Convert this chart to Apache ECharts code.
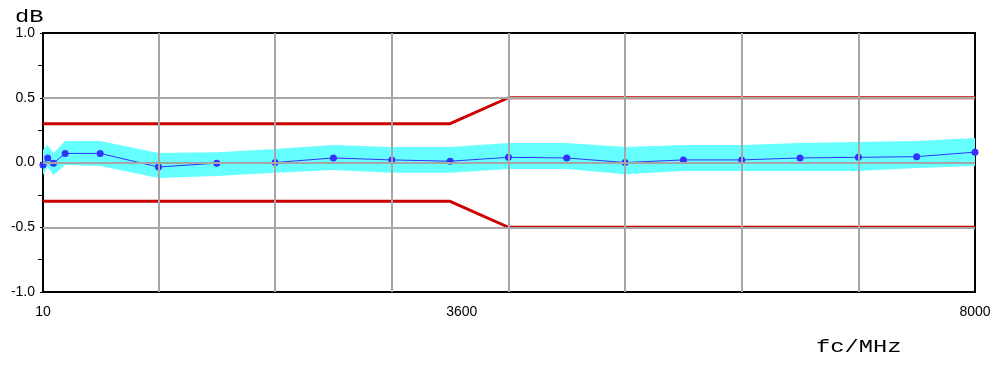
<!DOCTYPE html>
<html><head><meta charset="utf-8">
<script src="https://cdn.jsdelivr.net/npm/echarts@6/dist/echarts.min.js"></script>
<style>html,body{margin:0;padding:0;background:#fff}#c{width:997px;height:365px}</style>
</head><body><div id="c"></div>
<script>
const freqs = [10,50,100,200,500,1000,1500,2000,2500,3000,3500,4000,4500,5000,5500,6000,6500,7000,7500,8000];
const measured = [-0.02,0.035,-0.005,0.07,0.07,-0.035,-0.005,0.0,0.035,0.02,0.01,0.04,0.035,0.0,0.02,0.02,0.035,0.04,0.045,0.08];
const bandUpper = [0.097,0.135,0.073,0.166,0.166,0.073,0.08,0.104,0.135,0.12,0.12,0.15,0.15,0.12,0.135,0.135,0.15,0.158,0.166,0.19];
const bandLower = [-0.097,-0.035,-0.097,-0.02,-0.027,-0.12,-0.104,-0.08,-0.058,-0.08,-0.08,-0.05,-0.05,-0.09,-0.066,-0.066,-0.066,-0.066,-0.042,-0.027];
const limitFreqs = [10,3500,4000,8000];
const upperLimit = [0.3,0.3,0.5,0.5];
const lowerLimit = [-0.3,-0.3,-0.5,-0.5];
const gridFreqs = [1000,2000,3000,4000,5000,6000,7000];
const gridLevels = [-0.5,0,0.5];
const xTickLabels = [10,3600,8000];

const chart = echarts.init(document.getElementById('c'), null, {renderer:'canvas'});
const gridLineStyle = {color:'#a6a6a6', width:2, type:'solid'};
const labelFont = 'Liberation Sans, Arial, sans-serif';
const option = {
  animation:false,
  grid:{left:43, right:22, top:33, bottom:73, show:true, borderColor:'#000', borderWidth:2, backgroundColor:'transparent'},
  xAxis:{
    type:'value', min:10, max:8000,
    axisLine:{show:true, lineStyle:{color:'#000', width:2}},
    splitLine:{show:false},
    axisTick:{show:true, customValues:xTickLabels, length:4, lineStyle:{color:'#000', width:1}},
    axisLabel:{customValues:xTickLabels, color:'#000', fontFamily:labelFont, fontSize:14, margin:13,
      formatter:v=>String(v)}
  },
  yAxis:{
    type:'value', min:-1, max:1, interval:0.5,
    axisLine:{show:true, lineStyle:{color:'#000', width:2}},
    splitLine:{show:false},
    axisTick:{show:true, length:3, lineStyle:{color:'#000', width:1}},
    minorTick:{show:true, splitNumber:2, length:5, lineStyle:{color:'#000', width:1}},
    axisLabel:{color:'#000', fontFamily:labelFont, fontSize:14, margin:8,
      formatter:v=>v.toFixed(1)}
  },
  graphic:[
    {type:'text', x:15, y:7, scaleX:1.25, style:{text:'dB', font:'19px "Liberation Mono", "DejaVu Sans Mono", monospace', fill:'#000'}},
    {type:'text', x:816, y:337, scaleX:1.25, style:{text:'fc/MHz', font:'19px "Liberation Mono", "DejaVu Sans Mono", monospace', fill:'#000'}}
  ],
  series:[
    {
      type:'custom', z:1, silent:true,
      data: freqs.map((f,i)=>[f,bandLower[i],bandUpper[i]]),
      encode:{x:0, y:[1,2]},
      renderItem:(params, api)=>{
        if (params.dataIndex !== 0) return null;
        const pts = [];
        for (let i=0;i<freqs.length;i++) pts.push(api.coord([freqs[i], bandUpper[i]]));
        for (let i=freqs.length-1;i>=0;i--) pts.push(api.coord([freqs[i], bandLower[i]]));
        return {type:'polygon', shape:{points:pts}, style:{fill:'#66ffff', stroke:null}};
      }
    },
    {
      type:'line', z:2, data:[], silent:true,
      markLine:{silent:true, symbol:['none','none'], label:{show:false}, lineStyle:gridLineStyle, animation:false,
        data:[...gridFreqs.map(f=>({xAxis:f})), ...gridLevels.map(v=>({yAxis:v}))]}
    },
    {type:'line', z:3, symbol:'none', silent:true, lineStyle:{color:'#cc0000', width:3},
      data: limitFreqs.map((f,i)=>[f, upperLimit[i]])},
    {type:'line', z:3, symbol:'none', silent:true, lineStyle:{color:'#cc0000', width:3},
      data: limitFreqs.map((f,i)=>[f, lowerLimit[i]])},
    {type:'line', z:4, symbol:'circle', symbolSize:7, silent:true,
      lineStyle:{color:'#3333ff', width:1}, itemStyle:{color:'#3333ff'},
      data: freqs.map((f,i)=>[f, measured[i]])}
  ]
};
chart.setOption(option);
</script>
</body></html>
